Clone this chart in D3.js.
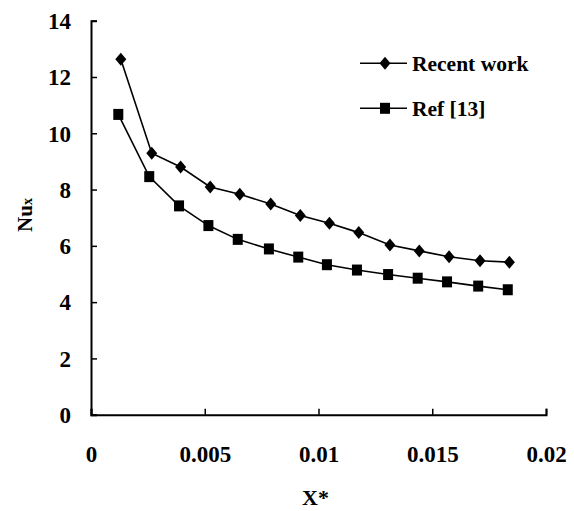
<!DOCTYPE html>
<html>
<head>
<meta charset="utf-8">
<script src="https://cdn.jsdelivr.net/npm/d3@7"></script>
<style>
  html, body { margin: 0; padding: 0; background: #fff; }
</style>
</head>
<body>
<svg id="chart" width="574" height="511"></svg>
<script>
// Local Nusselt number along the duct (dimensionless axial position X*)
const recentX = [0.00131, 0.00267, 0.00394, 0.00524, 0.00654, 0.0079, 0.0092, 0.01048, 0.01177, 0.01314, 0.01443, 0.01574, 0.0171, 0.01839];
const recentNu = [12.63, 9.29, 8.8, 8.09, 7.83, 7.49, 7.08, 6.8, 6.47, 6.03, 5.82, 5.61, 5.47, 5.42];
const refX = [0.0012, 0.00256, 0.00387, 0.00516, 0.00645, 0.00782, 0.00911, 0.01037, 0.01169, 0.01306, 0.01436, 0.01565, 0.01702, 0.01832];
const refNu = [10.67, 8.46, 7.42, 6.72, 6.23, 5.89, 5.6, 5.33, 5.14, 4.98, 4.85, 4.72, 4.57, 4.44];
const xTicks = [0, 0.005, 0.01, 0.015, 0.02];
const xTickLabels = ["0", "0.005", "0.01", "0.015", "0.02"];
const yTicks = [0, 2, 4, 6, 8, 10, 12, 14];
const seriesNames = ["Recent work", "Ref [13]"];

const FONT = "Liberation Serif";
// every label gets its font set on the text element itself
const styleText = sel => sel.attr("font-family", FONT).attr("font-weight", "bold").attr("fill", "#000");

const svg = d3.select("#chart");
const x = d3.scaleLinear().domain([0, 0.02]).range([91, 546]);
const y = d3.scaleLinear().domain([0, 14]).range([414.7, 20.7]);

// axes with inward ticks
const xAxis = d3.axisBottom(x).tickValues(xTicks).tickSizeInner(-6).tickSizeOuter(-6)
  .tickFormat((d, i) => xTickLabels[i]).tickPadding(0);
const yAxis = d3.axisLeft(y).tickValues(yTicks).tickSizeInner(-6).tickSizeOuter(-6)
  .tickFormat(d3.format("d")).tickPadding(0);

const gx = svg.append("g").attr("transform", `translate(0,${y(0)})`).call(xAxis);
const gy = svg.append("g").attr("transform", `translate(${x(0)},0)`).call(yAxis);

[gx, gy].forEach(g => {
  g.select(".domain").attr("stroke", "#000").attr("stroke-width", 2);
  g.selectAll(".tick line").attr("stroke", "#000").attr("stroke-width", 1.5);
  g.selectAll(".tick text").call(styleText).attr("font-size", 23);
});
gx.selectAll(".tick text").attr("y", 0).attr("dy", 0)
  .attr("transform", "translate(0,47)");
gy.selectAll(".tick text").attr("x", -20).attr("dy", "0.34em");

// series
const line = d3.line().x(d => x(d[0])).y(d => y(d[1]));
const recent = recentX.map((v, i) => [v, recentNu[i]]);
const ref = refX.map((v, i) => [v, refNu[i]]);

svg.append("path").datum(recent).attr("d", line)
  .attr("fill", "none").attr("stroke", "#000").attr("stroke-width", 1.6);
svg.append("path").datum(ref).attr("d", line)
  .attr("fill", "none").attr("stroke", "#000").attr("stroke-width", 1.6);

const diamond = "M0,-6.5L5.5,0L0,6.5L-5.5,0Z";
svg.append("g").selectAll("path").data(recent).join("path")
  .attr("d", diamond)
  .attr("transform", d => `translate(${x(d[0])},${y(d[1])})`)
  .attr("fill", "#000");
svg.append("g").selectAll("rect").data(ref).join("rect")
  .attr("x", d => x(d[0]) - 5).attr("y", d => y(d[1]) - 5.5)
  .attr("width", 10).attr("height", 11).attr("fill", "#000");

// legend
const legend = svg.append("g");
const rows = [{ y: 63.3, shape: "diamond" }, { y: 108.3, shape: "square" }];
rows.forEach((r, i) => {
  legend.append("line").attr("x1", 360).attr("x2", 407).attr("y1", r.y).attr("y2", r.y)
    .attr("stroke", "#000").attr("stroke-width", 1.6);
  if (r.shape === "diamond") {
    legend.append("path").attr("d", diamond).attr("transform", `translate(385,${r.y})`).attr("fill", "#000");
  } else {
    legend.append("rect").attr("x", 380).attr("y", r.y - 5.5).attr("width", 10).attr("height", 11).attr("fill", "#000");
  }
  legend.append("text").call(styleText).attr("x", 412).attr("y", r.y + 8).attr("font-size", 21.5)
    .text(seriesNames[i]);
});

// axis titles
svg.append("text").call(styleText).attr("x", 315.5).attr("y", 505).attr("text-anchor", "middle")
  .attr("font-size", 22).text("X*");
const yt = svg.append("text").call(styleText).attr("transform", "translate(31.5,215) rotate(-90)")
  .attr("text-anchor", "middle").attr("font-size", 21);
yt.append("tspan").call(styleText).text("Nu");
yt.append("tspan").call(styleText).attr("font-size", 14).text("x");
</script>
</body>
</html>
